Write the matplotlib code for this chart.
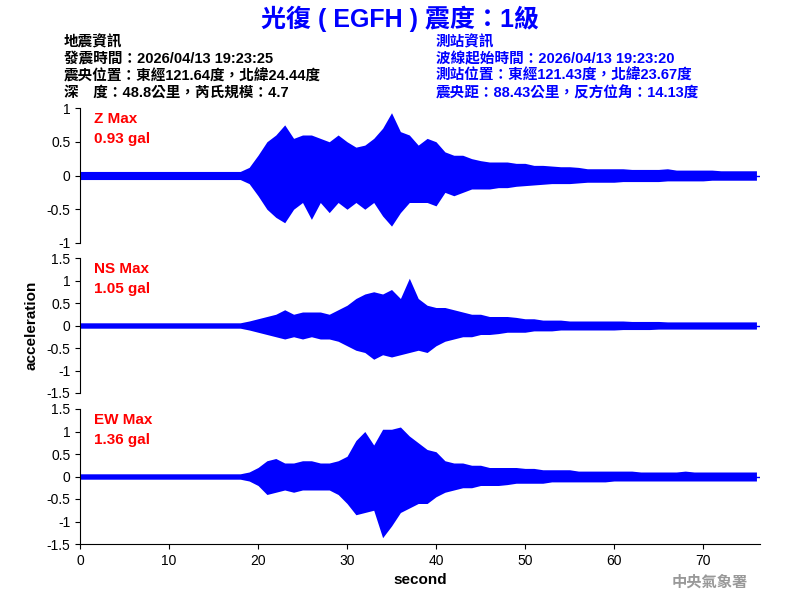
import matplotlib
matplotlib.use("Agg")
import matplotlib.pyplot as plt
import numpy as np

plt.rcParams['font.family'] = ['Liberation Sans', 'Noto Sans CJK TC', 'DejaVu Sans']

# per-second envelope (t = 0..76)
seconds = list(range(77))
z_max = [0.06]*19 + [0.12,0.3,0.5,0.6,0.75,0.55,0.6,0.6,0.55,0.5,0.6,0.5,0.42,0.45,0.55,0.7,0.93,0.65,0.6,0.45,0.55,0.5,0.35,0.3,0.3,0.25,0.22,0.2,0.2,0.2,0.18,0.18,0.15,0.15,0.14,0.13,0.13,0.12,0.1,0.1,0.1,0.1,0.1,0.09,0.09,0.09,0.09,0.1,0.08,0.08,0.08,0.08,0.08,0.07,0.07,0.07,0.07,0.07]
z_min = [-0.06]*19 + [-0.12,-0.3,-0.5,-0.62,-0.7,-0.5,-0.4,-0.65,-0.4,-0.55,-0.4,-0.5,-0.4,-0.5,-0.4,-0.6,-0.75,-0.55,-0.4,-0.4,-0.4,-0.45,-0.25,-0.3,-0.25,-0.2,-0.2,-0.2,-0.18,-0.18,-0.16,-0.15,-0.14,-0.13,-0.12,-0.12,-0.12,-0.11,-0.1,-0.1,-0.1,-0.1,-0.09,-0.09,-0.09,-0.09,-0.09,-0.08,-0.08,-0.08,-0.08,-0.08,-0.07,-0.07,-0.07,-0.07,-0.07,-0.07]
ns_max = [0.06]*19 + [0.1,0.15,0.2,0.25,0.35,0.25,0.3,0.3,0.3,0.25,0.35,0.45,0.6,0.7,0.75,0.7,0.8,0.6,1.05,0.6,0.45,0.4,0.4,0.35,0.3,0.25,0.25,0.2,0.2,0.2,0.18,0.15,0.15,0.12,0.12,0.12,0.1,0.1,0.1,0.1,0.1,0.1,0.1,0.09,0.09,0.09,0.09,0.08,0.08,0.08,0.08,0.08,0.08,0.08,0.08,0.08,0.08,0.08]
ns_min = [-0.06]*19 + [-0.1,-0.15,-0.2,-0.25,-0.3,-0.25,-0.3,-0.25,-0.3,-0.3,-0.35,-0.45,-0.55,-0.6,-0.75,-0.65,-0.7,-0.65,-0.6,-0.55,-0.6,-0.45,-0.35,-0.3,-0.25,-0.25,-0.2,-0.2,-0.18,-0.15,-0.15,-0.15,-0.12,-0.12,-0.12,-0.1,-0.1,-0.1,-0.1,-0.1,-0.1,-0.1,-0.09,-0.09,-0.09,-0.09,-0.08,-0.08,-0.08,-0.08,-0.08,-0.08,-0.08,-0.08,-0.08,-0.08,-0.08,-0.08]
ew_max = [0.06]*19 + [0.1,0.2,0.35,0.4,0.3,0.3,0.35,0.35,0.3,0.3,0.35,0.45,0.8,1.0,0.7,1.05,1.05,1.1,0.9,0.75,0.6,0.55,0.35,0.3,0.3,0.25,0.25,0.2,0.2,0.2,0.2,0.18,0.18,0.15,0.15,0.15,0.15,0.12,0.12,0.12,0.12,0.12,0.12,0.12,0.1,0.1,0.1,0.1,0.1,0.12,0.1,0.1,0.1,0.1,0.1,0.1,0.1,0.1]
ew_min = [-0.06]*19 + [-0.1,-0.2,-0.4,-0.35,-0.3,-0.35,-0.3,-0.3,-0.3,-0.3,-0.4,-0.6,-0.85,-0.8,-0.75,-1.36,-1.1,-0.8,-0.7,-0.6,-0.6,-0.45,-0.35,-0.3,-0.25,-0.25,-0.2,-0.2,-0.2,-0.18,-0.15,-0.15,-0.15,-0.15,-0.12,-0.12,-0.12,-0.12,-0.12,-0.12,-0.12,-0.1,-0.1,-0.1,-0.1,-0.1,-0.1,-0.1,-0.1,-0.1,-0.1,-0.1,-0.1,-0.1,-0.1,-0.1,-0.1,-0.1]
labels = ["Z Max\n0.93 gal", "NS Max\n1.05 gal", "EW Max\n1.36 gal"]
ylims = [1, 1.5, 1.5]
yticks = [[-1,-0.5,0,0.5,1], [-1.5,-1,-0.5,0,0.5,1,1.5], [-1.5,-1,-0.5,0,0.5,1,1.5]]

fig = plt.figure(figsize=(8, 6), dpi=100)
bottoms = [1-243/600, 1-393/600, 1-544/600]
series = [(z_max, z_min), (ns_max, ns_min), (ew_max, ew_min)]
t = np.array(seconds, dtype=float)
for i, (mx, mn) in enumerate(series):
    ax = fig.add_axes([0.1, bottoms[i], 0.85, 135/600])
    ax.fill_between(t, mn, mx, color='#0000ff', lw=0)
    ax.plot([0, 76.4], [0, 0], color='#0000ff', lw=1)
    ax.set_xlim(0, 76.4)
    ax.set_ylim(-ylims[i], ylims[i])
    ax.set_yticks(yticks[i])
    ax.set_yticklabels([f"{v:g}" for v in yticks[i]], fontsize=10)
    for s in ['top', 'right']:
        ax.spines[s].set_visible(False)
    if i < 2:
        ax.spines['bottom'].set_visible(False)
        ax.set_xticks([])
    else:
        ax.set_xticks(range(0, 80, 10))
        ax.tick_params(axis='x', labelsize=10)
        ax.set_xlabel('second', fontsize=11, fontweight='bold')
    ax.text(0.02, 0.97, labels[i], transform=ax.transAxes, color='red',
            fontsize=11, fontweight='bold', va='top', linespacing=1.5)
    if i == 1:
        ax.set_ylabel('acceleration', fontsize=11, fontweight='bold', labelpad=6)

fig.text(0.5, 0.968, '光復 ( EGFH ) 震度：1級', color='#0000ff', fontsize=18,
         fontweight='bold', ha='center', va='center')
left = "地震資訊\n發震時間：2026/04/13 19:23:25\n震央位置：東經121.64度，北緯24.44度\n深　度：48.8公里，芮氏規模：4.7"
right = "測站資訊\n波線起始時間：2026/04/13 19:23:20\n測站位置：東經121.43度，北緯23.67度\n震央距：88.43公里，反方位角：14.13度"
fig.text(0.08, 0.942, left, fontsize=10.5, fontweight='bold', va='top', linespacing=1.25)
fig.text(0.545, 0.942, right, fontsize=10.5, fontweight='bold', va='top', color='#0000ff', linespacing=1.25)
fig.text(0.935, 0.03, '中央氣象署', fontsize=11, fontweight='bold', color='#999999', ha='right', va='center')
fig.savefig('out.png', dpi=100)
